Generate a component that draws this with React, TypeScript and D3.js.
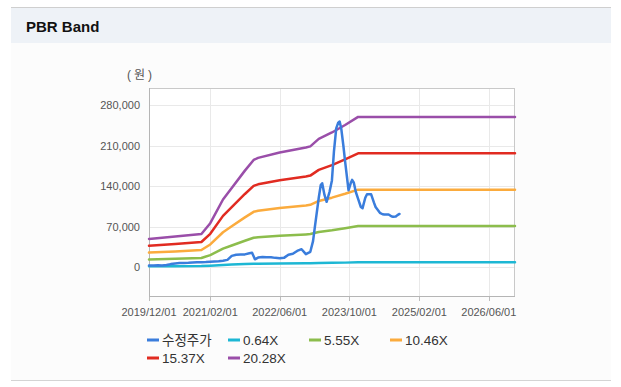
import * as d3 from 'd3'

const W = 621
const H = 387
const PLOT = { left: 149, right: 515, top: 88, bottom: 296 }

const FONT = '"Liberation Sans", Arial, "Noto Sans CJK KR", sans-serif'

// band breakpoints (monthly BPS shape) and PBR multiples
const BAND_DATES = [
  '2019-12-01', '2020-06-01', '2020-12-01', '2021-02-01', '2021-05-01', '2021-07-01',
  '2021-10-01', '2021-12-01', '2022-01-01', '2022-06-01', '2022-12-01', '2023-01-01',
  '2023-03-01', '2023-06-01', '2023-09-01', '2023-12-01', '2026-12-01'
]
const BAND_064 = [1537, 1666, 1808, 2399, 3693, 4324, 5271, 5854, 5965, 6265, 6533, 6596, 7006, 7353, 7764, 8206, 8206]
const BAND_555 = [13330, 14450, 15680, 20800, 32020, 37490, 45700, 50770, 51720, 54320, 56650, 57200, 60750, 63770, 67320, 71150, 71150]
const BAND_1046 = [25120, 27230, 29550, 39200, 60350, 70660, 86140, 95680, 97480, 102380, 106770, 107800, 114500, 120180, 126880, 134100, 134100]
const BAND_1537 = [36910, 40020, 43430, 57600, 88670, 103830, 126570, 140590, 143240, 150440, 156880, 158400, 168250, 176590, 186440, 197050, 197050]
const BAND_2028 = [48700, 52800, 57300, 76000, 117000, 137000, 167000, 185500, 189000, 198500, 207000, 209000, 222000, 233000, 246000, 260000, 260000]

// 수정주가 (adjusted price)
const PRICE_DATES = [
  '2019-12-01', '2020-01-01', '2020-02-01', '2020-03-01', '2020-04-01', '2020-05-01',
  '2020-06-01', '2020-07-01', '2020-08-01', '2020-09-01', '2020-10-01', '2020-11-01',
  '2020-12-01', '2021-01-01', '2021-02-01', '2021-03-01', '2021-04-01', '2021-05-01',
  '2021-06-01', '2021-07-01', '2021-08-01', '2021-09-01', '2021-10-01', '2021-11-01',
  '2021-11-20', '2021-12-10', '2022-01-01', '2022-02-01', '2022-03-01', '2022-04-01',
  '2022-05-01', '2022-06-01', '2022-07-01', '2022-08-01', '2022-09-01', '2022-10-01',
  '2022-11-01', '2022-12-01', '2023-01-01', '2023-01-20', '2023-02-01', '2023-03-01',
  '2023-03-15', '2023-03-25', '2023-04-10', '2023-04-25', '2023-05-15', '2023-06-01',
  '2023-06-15', '2023-07-01', '2023-07-15', '2023-07-25', '2023-08-05', '2023-08-20',
  '2023-09-01', '2023-09-25', '2023-10-10', '2023-10-20', '2023-11-01', '2023-11-15',
  '2023-12-01', '2023-12-20', '2024-01-01', '2024-01-20', '2024-02-01', '2024-03-01',
  '2024-03-20', '2024-04-01', '2024-05-01', '2024-05-20', '2024-06-01', '2024-07-01',
  '2024-07-20', '2024-08-01', '2024-08-20', '2024-09-01', '2024-09-15'
]
const PRICE = [
  2800, 3000, 3200, 2900, 3800, 5200,
  6300, 7000, 7200, 7400, 7800, 8200,
  8500, 8800, 9300, 9600, 10000, 11000,
  12500, 19500, 21500, 21800, 22000, 24000,
  25000, 13500, 16500, 17500, 17000, 17000,
  16000, 15300, 16000, 21500, 23000, 28000,
  31000, 22500, 26500, 45000, 68000, 120000,
  142000, 145000, 125000, 113000, 130000, 150000,
  200000, 240000, 250000, 252000, 240000, 210000,
  183000, 133000, 145000, 151000, 146000, 130000,
  118000, 104000, 102000, 120000, 126000, 126000,
  112000, 104000, 94000, 91500, 91000, 91000,
  88000, 87000, 87500, 90000, 92000
]

const Y_TICKS = [0, 70000, 140000, 210000, 280000]
const X_TICKS = ['2019-12-01', '2021-02-01', '2022-06-01', '2023-10-01', '2025-02-01', '2026-06-01']

const SERIES = [
  { name: '수정주가', color: '#3a7ddc', dates: PRICE_DATES, values: PRICE },
  { name: '0.64X', color: '#1db7d4', dates: BAND_DATES, values: BAND_064 },
  { name: '5.55X', color: '#8cbd4c', dates: BAND_DATES, values: BAND_555 },
  { name: '10.46X', color: '#fbab3d', dates: BAND_DATES, values: BAND_1046 },
  { name: '15.37X', color: '#e12b21', dates: BAND_DATES, values: BAND_1537 },
  { name: '20.28X', color: '#9a4ea9', dates: BAND_DATES, values: BAND_2028 }
]

const parse = d3.utcParse('%Y-%m-%d')
const fmtDate = d3.utcFormat('%Y/%m/%d')
const fmtNum = d3.format(',')

export default function App() {
  const x = d3.scaleUtc()
    .domain([parse('2019-12-01'), parse('2026-12-01')])
    .range([PLOT.left, PLOT.right])
  const y = d3.scaleLinear().domain([-50000, 310000]).range([PLOT.bottom, PLOT.top])

  const line = d3.line<[Date, number]>()
    .x(d => x(d[0]))
    .y(d => y(d[1]))

  // bands first, price drawn over them
  const order = [1, 2, 3, 4, 5, 0]

  return (
    <svg width={W} height={H} style={{ position: 'absolute', left: 0, top: 0, fontFamily: FONT }}>
      <rect x={0} y={0} width={W} height={H} fill="#ffffff" />
      {/* panel */}
      <rect x={11} y={8} width={600} height={35} fill="#eef2f7" />
      <rect x={11} y={43} width={600} height={337} fill="#fcfcfc" />
      <line x1={11} x2={611} y1={7.5} y2={7.5} stroke="#cfcfcf" />
      <line x1={11} x2={611} y1={380.5} y2={380.5} stroke="#d4d4d4" />
      <text x={26} y={31.5} fontSize={15} fontWeight="bold" fill="#111">PBR Band</text>

      {/* plot background + grid */}
      <rect x={PLOT.left} y={PLOT.top} width={PLOT.right - PLOT.left} height={PLOT.bottom - PLOT.top} fill="#ffffff" />
      {Y_TICKS.map(t => (
        <line key={`gy-${t}`} x1={PLOT.left} x2={PLOT.right} y1={Math.round(y(t)) + 0.5} y2={Math.round(y(t)) + 0.5} stroke="#e9e9e9" />
      ))}
      {X_TICKS.map(t => {
        const xx = Math.round(x(parse(t)!)) + 0.5
        return (
          <g key={`gx-${t}`}>
            <line x1={xx} x2={xx} y1={PLOT.top} y2={PLOT.bottom} stroke="#e9e9e9" />
            <line x1={xx} x2={xx} y1={PLOT.bottom} y2={PLOT.bottom + 5} stroke="#bdbdbd" />
          </g>
        )
      })}
      <rect x={PLOT.left + 0.5} y={PLOT.top + 0.5} width={PLOT.right - PLOT.left - 1} height={PLOT.bottom - PLOT.top} fill="none" stroke="#c9c9c9" />
      <line x1={PLOT.left + 0.5} x2={PLOT.left + 0.5} y1={PLOT.top} y2={PLOT.bottom + 1} stroke="#b5b5b5" />
      <line x1={PLOT.left} x2={PLOT.right} y1={PLOT.bottom + 0.5} y2={PLOT.bottom + 0.5} stroke="#b5b5b5" />

      {/* axis labels */}
      {Y_TICKS.map(t => (
        <text key={`ly-${t}`} x={140} y={y(t)} dy="0.35em" fontSize={11} fill="#555" textAnchor="end">{fmtNum(t)}</text>
      ))}
      {X_TICKS.map(t => (
        <text key={`lx-${t}`} x={x(parse(t)!)} y={312} dy="0.35em" fontSize={11} fill="#555" textAnchor="middle">{fmtDate(parse(t)!)}</text>
      ))}
      <text x={141} y={75} dy="0.35em" fontSize={12} fill="#555" textAnchor="middle" letterSpacing={3}>(원)</text>

      {/* series */}
      <g>
        {order.map(i => {
          const s = SERIES[i]
          const pts = s.dates.map((d, j) => [parse(d)!, s.values[j]] as [Date, number])
          return (
            <path key={s.name} d={line(pts) || ''} fill="none" stroke={s.color} strokeWidth={2.5} strokeLinejoin="round" strokeLinecap="round" />
          )
        })}
      </g>

      {/* legend */}
      {SERIES.map((s, i) => {
        const col = i % 4
        const row = Math.floor(i / 4)
        const lx = 147 + col * 81
        const ly = 340 + row * 18
        return (
          <g key={`lg-${s.name}`}>
            <line x1={lx} x2={lx + 12} y1={ly} y2={ly} stroke={s.color} strokeWidth={3} />
            <text x={lx + 15} y={ly} dy="0.36em" fontSize={13.5} fill="#333">{s.name}</text>
          </g>
        )
      })}
    </svg>
  )
}
